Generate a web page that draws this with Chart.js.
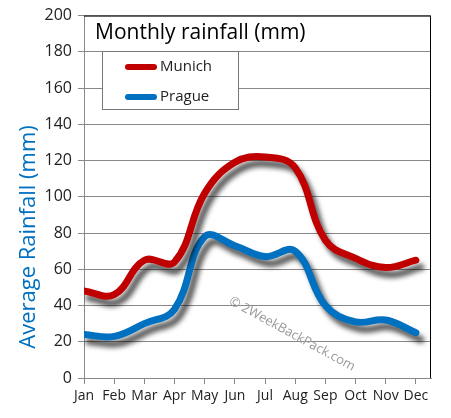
<!DOCTYPE html>
<html>
<head>
<meta charset="utf-8">
<script src="https://cdn.jsdelivr.net/npm/chart.js@4"></script>
<style>
  html, body { margin: 0; padding: 0; background: #fff; }
  #wrap { width: 451px; height: 418px; }
</style>
</head>
<body>
<div id="wrap"><canvas id="myChart" width="451" height="418"></canvas></div>
<script>
// Chart data
const months = ["Jan", "Feb", "Mar", "Apr", "May", "Jun", "Jul", "Aug", "Sep", "Oct", "Nov", "Dec"];
const munich = [48, 46, 65, 64, 102, 119, 122, 116, 76, 66, 61, 65];
const prague = [24, 23, 30, 38, 78, 73, 67, 70, 40, 31, 32, 25];
const yTicks = [0, 20, 40, 60, 80, 100, 120, 140, 160, 180, 200];

const FONT = "'Open Sans', sans-serif";

// turn a list of values into {x, y} points on the linear month axis
const toPoints = arr => arr.map((v, i) => ({ x: i, y: v }));

// drop shadow under each line
const shadowPlugin = {
  id: 'lineShadow',
  beforeDatasetDraw(chart) {
    const ctx = chart.ctx;
    ctx.save();
    ctx.shadowColor = 'rgba(0,0,0,0.65)';
    ctx.shadowBlur = 5;
    ctx.shadowOffsetX = 5;
    ctx.shadowOffsetY = 7;
  },
  afterDatasetDraw(chart) {
    chart.ctx.restore();
  }
};

// title, legend box, y-axis title, watermark and frame
const decorPlugin = {
  id: 'decor',
  afterDraw(chart) {
    const ctx = chart.ctx;
    const area = chart.chartArea;
    ctx.save();

    // black top and right frame
    ctx.strokeStyle = '#000';
    ctx.lineWidth = 1;
    ctx.beginPath();
    ctx.moveTo(area.left, area.top + 0.5);
    ctx.lineTo(area.right - 0.5, area.top + 0.5);
    ctx.lineTo(area.right - 0.5, area.bottom);
    ctx.stroke();

    // title
    ctx.fillStyle = '#000';
    ctx.font = '21px ' + FONT;
    ctx.textBaseline = 'middle';
    ctx.textAlign = 'left';
    ctx.fillText('Monthly rainfall (mm)', 95, 33);

    // legend box
    ctx.fillStyle = '#fff';
    ctx.fillRect(102.5, 51.5, 136, 58);
    ctx.strokeStyle = '#777';
    ctx.strokeRect(102.5, 51.5, 136, 58);
    chart.data.datasets.forEach((ds, i) => {
      const y = 67 + i * 30;
      ctx.strokeStyle = ds.borderColor;
      ctx.lineWidth = 6;
      ctx.lineCap = 'round';
      ctx.beginPath();
      ctx.moveTo(128, y);
      ctx.lineTo(154, y);
      ctx.stroke();
      ctx.fillStyle = '#222';
      ctx.font = '15px ' + FONT;
      ctx.fillText(ds.label, 160, y);
    });

    // y axis title
    ctx.save();
    ctx.translate(29, 237);
    ctx.rotate(-Math.PI / 2);
    ctx.textAlign = 'center';
    ctx.fillStyle = '#0070C0';
    ctx.font = '22px ' + FONT;
    ctx.fillText('Average Rainfall (mm)', 0, 0);
    ctx.restore();

    // watermark
    ctx.save();
    ctx.translate(292, 334);
    ctx.rotate(28.5 * Math.PI / 180);
    ctx.textAlign = 'center';
    ctx.fillStyle = '#999';
    ctx.font = '13px ' + FONT;
    ctx.fillText('\u00A9 2WeekBackPack.com', 0, 0);
    ctx.restore();

    ctx.restore();
  }
};

const ctx = document.getElementById('myChart').getContext('2d');

new Chart(ctx, {
  type: 'line',
  data: {
    datasets: [
      {
        label: 'Munich',
        data: toPoints(munich),
        borderColor: '#C00000',
        borderWidth: 7,
        tension: 0.4,
        pointRadius: 0,
        borderCapStyle: 'round',
        fill: false
      },
      {
        label: 'Prague',
        data: toPoints(prague),
        borderColor: '#0070C0',
        borderWidth: 7,
        tension: 0.4,
        pointRadius: 0,
        borderCapStyle: 'round',
        fill: false
      }
    ]
  },
  options: {
    responsive: false,
    animation: false,
    layout: { padding: { top: 14, right: 20, left: 0, bottom: 0 } },
    plugins: {
      legend: { display: false },
      tooltip: { enabled: false }
    },
    scales: {
      x: {
        type: 'linear',
        min: 0,
        max: 11.5,
        afterBuildTicks: scale => {
          scale.ticks = months.map((m, i) => ({ value: i }));
        },
        afterFit: scale => { scale.height = 40; },
        grid: { drawOnChartArea: false, drawTicks: true, tickLength: 6, color: '#888' },
        border: { color: '#888' },
        ticks: {
          autoSkip: false,
          maxRotation: 0,
          padding: 4,
          color: '#222',
          font: { family: FONT, size: 14 },
          callback: v => months[v]
        }
      },
      y: {
        min: 0,
        max: 200,
        afterBuildTicks: scale => {
          scale.ticks = yTicks.map(v => ({ value: v }));
        },
        afterFit: scale => { scale.width = 84; },
        grid: { color: '#888', tickLength: 6 },
        border: { color: '#888' },
        ticks: {
          padding: 6,
          color: '#222',
          font: { family: FONT, size: 16 }
        }
      }
    }
  },
  plugins: [shadowPlugin, decorPlugin]
});
</script>
</body>
</html>
